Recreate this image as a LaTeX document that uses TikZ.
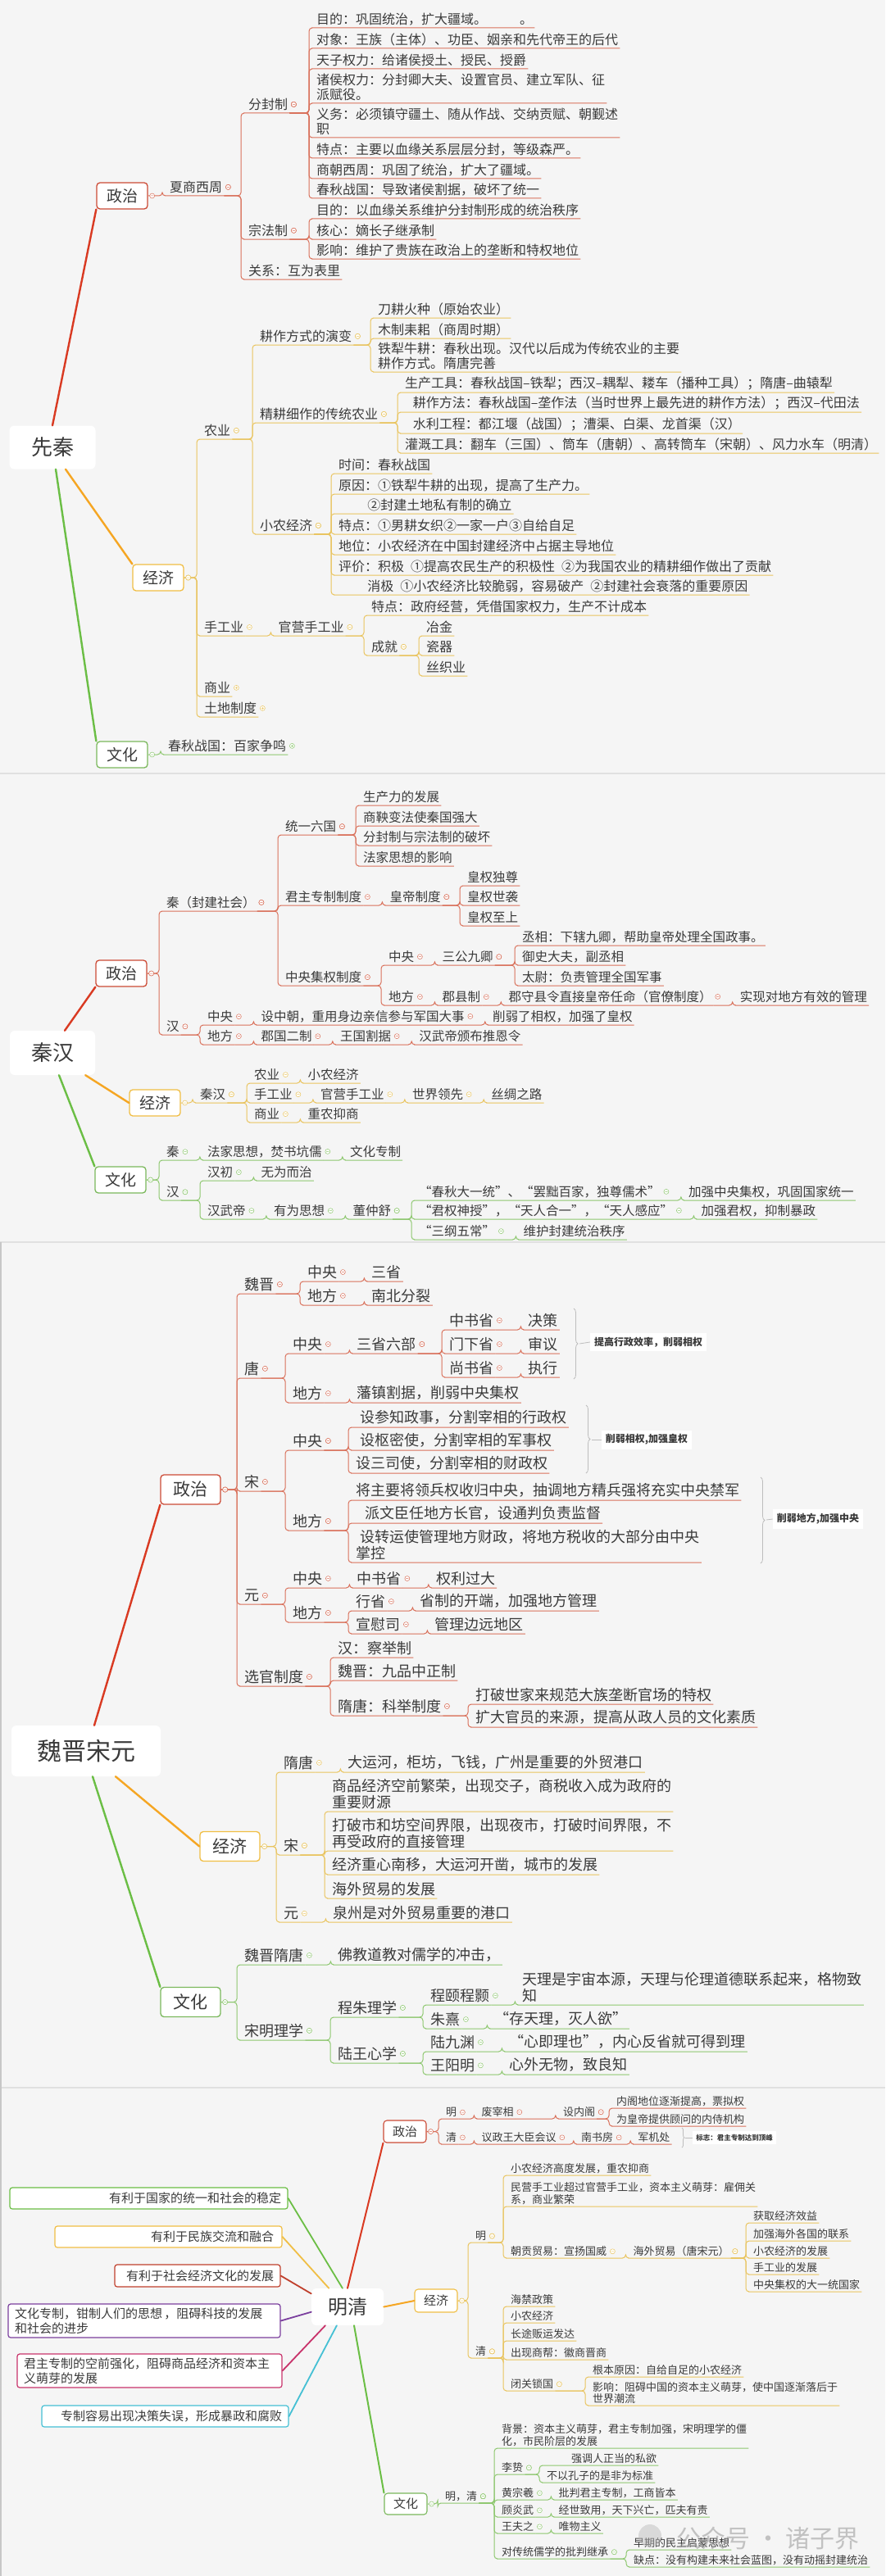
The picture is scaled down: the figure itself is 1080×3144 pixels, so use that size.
\documentclass[tikz,border=0pt]{standalone}
\usepackage{fontspec}
\setmainfont{Noto Sans CJK SC}
\usetikzlibrary{positioning,calc,decorations.pathreplacing}
\definecolor{PageBg}{HTML}{F5F5F5}
\definecolor{InkGray}{HTML}{3A3A3A}
\definecolor{PolLine}{HTML}{D9705A}
\definecolor{PolBox}{HTML}{CC4A35}
\definecolor{PolRoot}{HTML}{D93A22}
\definecolor{EcoLine}{HTML}{E9C45E}
\definecolor{EcoBox}{HTML}{F0BE45}
\definecolor{EcoRoot}{HTML}{F5A623}
\definecolor{CulLine}{HTML}{8DC76E}
\definecolor{CulBox}{HTML}{7AB85C}
\definecolor{CulRoot}{HTML}{6BBE45}
\definecolor{BraceGray}{HTML}{BDBDBD}
\definecolor{EvRed}{HTML}{C0402D}
\definecolor{EvPurple}{HTML}{7B3F9E}
\definecolor{EvCrimson}{HTML}{C8336B}
\definecolor{EvCyan}{HTML}{45C0D4}

\newcommand{\lnk}[3]{%
  \draw[#1, line width=1pt, rounded corners=4pt] (#2.south east)
    -- ($(#2.south east -| #3.south west)+(-7,0)$) |- (#3.south west) -- (#3.south east);
  \draw[#1, line width=.5pt, fill=white] ($(#2.east)+(5,0)$) circle (3pt) +(-1.6,0) -- +(1.6,0);}
\newcommand{\blnk}[3]{%
  \draw[#1, line width=1pt, rounded corners=4pt] (#2.east)
    -- ($(#2.east -| #3.south west)+(-7,0)$) |- (#3.south west) -- (#3.south east);
  \draw[#1, line width=.5pt, fill=white] ($(#2.east)+(5,0)$) circle (3pt) +(-1.6,0) -- +(1.6,0);}
\newcommand{\mkp}[2]{%
  \draw[#1, line width=.5pt, fill=white] ($(#2.east)+(5,0)$) circle (3pt)
    +(-1.6,0) -- +(1.6,0) +(0,-1.6) -- +(0,1.6);}

\begin{document}
\begin{tikzpicture}[x=1pt, y=-1pt,
  ta/.style={anchor=south west, inner xsep=2pt, inner ysep=3pt, align=left, text=InkGray, font=\fontsize{16}{17.6}\selectfont},
  tb/.style={ta, font=\fontsize{15.5}{17}\selectfont},
  tc/.style={ta, font=\fontsize{18}{19.8}\selectfont},
  td/.style={ta, inner ysep=2pt, font=\fontsize{13}{14.5}\selectfont},
  rootbox/.style={fill=white, rounded corners=6pt, text=InkGray, inner sep=0pt},
  lvbox/.style={draw=#1, fill=white, line width=1.3pt, rounded corners=4pt, text=InkGray, inner sep=0pt,
    minimum width=62pt, minimum height=32pt, font=\fontsize{19}{19}\selectfont},
  rl/.style={draw=#1, line width=2.4pt, line cap=round},
  evl/.style={draw=#1, line width=1.8pt, line cap=round},
  brc/.style={draw=BraceGray, line width=.8pt, decorate, decoration={brace, amplitude=5pt}},
  tag/.style={fill=white, inner xsep=5pt, inner ysep=5pt, text=InkGray, font=\fontsize{12}{12}\selectfont\bfseries},
  evbox/.style={draw=#1, fill=white, line width=1.2pt, rounded corners=3pt, text=InkGray,
    inner xsep=8pt, inner ysep=2pt, font=\fontsize{15}{18}\selectfont}]
  \useasboundingbox (0,0) rectangle (1080,3144);
  \fill[PageBg] (0,0) rectangle (1080,3144);
  \draw[black!12, line width=1.5pt] (0,944) -- (1080,944) (0,1516) -- (1080,1516) (0,2548) -- (1080,2548);
  \draw[black!22, line width=1.5pt] (1,1516) -- (1,3144);

  \node[rootbox, minimum width=105pt, minimum height=53pt, font=\fontsize{26}{26}\selectfont] (aR) at (64,546) {先秦};
  \node[lvbox=PolBox] (aP) at (149,239) {政治};
  \node[lvbox=EcoBox] (aE) at (193,705) {经济};
  \node[lvbox=CulBox] (aC) at (149,921) {文化};
  \draw[rl=PolRoot] (aR.north) -- (aP.south west);
  \draw[rl=EcoRoot] ([xshift=16pt]aR.south) -- (aE.north west);
  \draw[rl=CulRoot] ([xshift=4pt]aR.south) -- (aC.north west);

  \node[ta] (a1) at (205,239) {夏商西周};
  \node[ta] (a11) at (301,138) {分封制};
  \node[ta] (a12) at (301,292) {宗法制};
  \node[ta] (a13) at (301,341) {关系：互为表里};
  \node[ta] (a111) at (384,34) {目的：巩固统治，扩大疆域。\hspace{2.5em}。};
  \node[ta] (a112) at (384,59) {对象：王族（主体）、功臣、姻亲和先代帝王的后代};
  \node[ta] (a113) at (384,84) {天子权力：给诸侯授土、授民、授爵};
  \node[ta] (a114) at (384,126) {诸侯权力：分封卿大夫、设置官员、建立军队、征\\派赋役。};
  \node[ta] (a115) at (384,168) {义务：必须镇守疆土、随从作战、交纳贡赋、朝觐述\\职};
  \node[ta] (a116) at (384,193) {特点：主要以血缘关系层层分封，等级森严。};
  \node[ta] (a117) at (384,218) {商朝西周：巩固了统治，扩大了疆域。};
  \node[ta] (a118) at (384,242) {春秋战国：导致诸侯割据，破坏了统一};
  \node[ta] (a121) at (384,267) {目的：以血缘关系维护分封制形成的统治秩序};
  \node[ta] (a122) at (384,292) {核心：嫡长子继承制};
  \node[ta] (a123) at (384,316) {影响：维护了贵族在政治上的垄断和特权地位};
  \blnk{PolLine}{aP}{a1}
  \foreach \c in {a11,a12,a13} {\lnk{PolLine}{a1}{\c}}
  \foreach \c in {a111,a112,a113,a114,a115,a116,a117,a118} {\lnk{PolLine}{a11}{\c}}
  \foreach \c in {a121,a122,a123} {\lnk{PolLine}{a12}{\c}}

  \node[ta] (a2) at (247,536) {农业};
  \node[ta] (a3) at (247,776) {手工业};
  \node[ta] (a4) at (247,850) {商业};
  \node[ta] (a5) at (247,875) {土地制度};
  \node[ta] (a21) at (315,421) {耕作方式的演变};
  \node[ta] (a22) at (315,516) {精耕细作的传统农业};
  \node[ta] (a23) at (315,652) {小农经济};
  \node[ta] (a211) at (459,388) {刀耕火种（原始农业）};
  \node[ta] (a212) at (459,413) {木制耒耜（商周时期）};
  \node[ta] (a213) at (459,454) {铁犁牛耕：春秋出现。汉代以后成为传统农业的主要\\耕作方式。隋唐完善};
  \node[ta] (a221) at (492,479) {生产工具：春秋战国–铁犁；西汉–耦犁、耧车（播种工具）；隋唐–曲辕犁};
  \node[ta] (a222) at (492,503) {\hspace*{.6em}耕作方法：春秋战国–垄作法（当时世界上最先进的耕作方法）；西汉–代田法};
  \node[ta] (a223) at (492,529) {\hspace*{.6em}水利工程：都江堰（战国）；漕渠、白渠、龙首渠（汉）};
  \node[ta] (a224) at (492,553) {灌溉工具：翻车（三国）、筒车（唐朝）、高转筒车（宋朝）、风力水车（明清）};
  \node[ta] (a231) at (411,578) {时间：春秋战国};
  \node[ta] (a232) at (411,603) {原因：①铁犁牛耕的出现，提高了生产力。};
  \node[ta] (a233) at (411,627) {\hspace*{2.2em}②封建土地私有制的确立};
  \node[ta] (a234) at (411,652) {特点：①男耕女织②一家一户③自给自足};
  \node[ta] (a235) at (411,677) {地位：小农经济在中国封建经济中占据主导地位};
  \node[ta] (a236) at (411,702) {评价：积极\hspace{.5em}①提高农民生产的积极性\hspace{.5em}②为我国农业的精耕细作做出了贡献};
  \node[ta] (a237) at (411,726) {\hspace*{2.2em}消极\hspace{.5em}①小农经济比较脆弱，容易破产\hspace{.5em}②封建社会衰落的重要原因};
  \node[ta, right=38pt of a3.south east, anchor=south west] (a31) {官营手工业};
  \node[ta] (a311) at (451,751) {特点：政府经营，凭借国家权力，生产不计成本};
  \node[ta] (a312) at (451,800) {成就};
  \node[ta] (a3121) at (518,776) {冶金};
  \node[ta] (a3122) at (518,800) {瓷器};
  \node[ta] (a3123) at (518,825) {丝织业};
  \foreach \c in {a2,a3,a4,a5} {\blnk{EcoLine}{aE}{\c}}
  \foreach \c in {a21,a22,a23} {\lnk{EcoLine}{a2}{\c}}
  \foreach \c in {a211,a212,a213} {\lnk{EcoLine}{a21}{\c}}
  \foreach \c in {a221,a222,a223,a224} {\lnk{EcoLine}{a22}{\c}}
  \foreach \c in {a231,a232,a233,a234,a235,a236,a237} {\lnk{EcoLine}{a23}{\c}}
  \lnk{EcoLine}{a3}{a31}
  \foreach \c in {a311,a312} {\lnk{EcoLine}{a31}{\c}}
  \foreach \c in {a3121,a3122,a3123} {\lnk{EcoLine}{a312}{\c}}
  \mkp{EcoLine}{a4}
  \mkp{EcoLine}{a5}

  \node[ta] (a6) at (203,921) {春秋战国：百家争鸣};
  \blnk{CulLine}{aC}{a6}
  \mkp{CulLine}{a6}

  \node[rootbox, minimum width=104pt, minimum height=54pt, font=\fontsize{26}{26}\selectfont] (bR) at (64,1285) {秦汉};
  \node[lvbox=PolBox] (bP) at (148,1188) {政治};
  \node[lvbox=EcoBox] (bE) at (189,1346) {经济};
  \node[lvbox=CulBox] (bC) at (147,1440) {文化};
  \draw[rl=PolRoot] ([xshift=15pt]bR.north) -- (bP.south west);
  \draw[rl=EcoRoot] ([xshift=-12pt]bR.south east) -- (bE.west);
  \draw[rl=CulRoot] ([xshift=8pt]bR.south) -- (bC.north west);

  \node[tb] (b1) at (201,1112) {秦（封建社会）};
  \node[tb] (b2) at (201,1263) {汉};
  \node[tb] (b11) at (346,1019) {统一六国};
  \node[tb] (b12) at (346,1105) {君主专制制度};
  \node[tb] (b13) at (346,1203) {中央集权制度};
  \node[tb] (b111) at (441,983) {生产力的发展};
  \node[tb] (b112) at (441,1008) {商鞅变法使秦国强大};
  \node[tb] (b113) at (441,1032) {分封制与宗法制的破坏};
  \node[tb] (b114) at (441,1057) {法家思想的影响};
  \node[tb, right=30pt of b12.south east, anchor=south west] (b121) {皇帝制度};
  \node[tb] (b1211) at (568,1081) {皇权独尊};
  \node[tb] (b1212) at (568,1105) {皇权世袭};
  \node[tb] (b1213) at (568,1130) {皇权至上};
  \node[tb] (b131) at (472,1178) {中央};
  \node[tb, right=30pt of b131.south east, anchor=south west] (b1311) {三公九卿};
  \node[tb] (b13111) at (635,1154) {丞相：下辖九卿，帮助皇帝处理全国政事。};
  \node[tb] (b13112) at (635,1178) {御史大夫，副丞相};
  \node[tb] (b13113) at (635,1203) {太尉：负责管理全国军事};
  \node[tb] (b132) at (472,1227) {地方};
  \node[tb, right=30pt of b132.south east, anchor=south west] (b1321) {郡县制};
  \node[tb, right=30pt of b1321.south east, anchor=south west] (b13211) {郡守县令直接皇帝任命（官僚制度）};
  \node[tb, right=30pt of b13211.south east, anchor=south west] (b132111) {实现对地方有效的管理};
  \node[tb] (b21) at (251,1251) {中央};
  \node[tb, right=30pt of b21.south east, anchor=south west] (b211) {设中朝，重用身边亲信参与军国大事};
  \node[tb, right=30pt of b211.south east, anchor=south west] (b2111) {削弱了相权，加强了皇权};
  \node[tb] (b22) at (251,1275) {地方};
  \node[tb, right=30pt of b22.south east, anchor=south west] (b221) {郡国二制};
  \node[tb, right=30pt of b221.south east, anchor=south west] (b2211) {王国割据};
  \node[tb, right=30pt of b2211.south east, anchor=south west] (b22111) {汉武帝颁布推恩令};
  \foreach \c in {b1,b2} {\blnk{PolLine}{bP}{\c}}
  \foreach \c in {b11,b12,b13} {\lnk{PolLine}{b1}{\c}}
  \foreach \c in {b111,b112,b113,b114} {\lnk{PolLine}{b11}{\c}}
  \lnk{PolLine}{b12}{b121}
  \foreach \c in {b1211,b1212,b1213} {\lnk{PolLine}{b121}{\c}}
  \foreach \c in {b131,b132} {\lnk{PolLine}{b13}{\c}}
  \lnk{PolLine}{b131}{b1311}
  \foreach \c in {b13111,b13112,b13113} {\lnk{PolLine}{b1311}{\c}}
  \lnk{PolLine}{b132}{b1321}
  \lnk{PolLine}{b1321}{b13211}
  \lnk{PolLine}{b13211}{b132111}
  \foreach \c in {b21,b22} {\lnk{PolLine}{b2}{\c}}
  \lnk{PolLine}{b21}{b211}
  \lnk{PolLine}{b211}{b2111}
  \lnk{PolLine}{b22}{b221}
  \lnk{PolLine}{b221}{b2211}
  \lnk{PolLine}{b2211}{b22111}

  \node[tb] (b3) at (242,1346) {秦汉};
  \node[tb] (b31) at (308,1322) {农业};
  \node[tb, right=30pt of b31.south east, anchor=south west] (b311) {小农经济};
  \node[tb] (b32) at (308,1346) {手工业};
  \node[tb, right=30pt of b32.south east, anchor=south west] (b321) {官营手工业};
  \node[tb, right=30pt of b321.south east, anchor=south west] (b3211) {世界领先};
  \node[tb, right=30pt of b3211.south east, anchor=south west] (b32111) {丝绸之路};
  \node[tb] (b33) at (308,1370) {商业};
  \node[tb, right=30pt of b33.south east, anchor=south west] (b331) {重农抑商};
  \blnk{EcoLine}{bE}{b3}
  \foreach \c in {b31,b32,b33} {\lnk{EcoLine}{b3}{\c}}
  \lnk{EcoLine}{b31}{b311}
  \lnk{EcoLine}{b32}{b321}
  \lnk{EcoLine}{b321}{b3211}
  \lnk{EcoLine}{b3211}{b32111}
  \lnk{EcoLine}{b33}{b331}

  \node[tb] (b4) at (201,1416) {秦};
  \node[tb, right=30pt of b4.south east, anchor=south west] (b41) {法家思想，焚书坑儒};
  \node[tb, right=30pt of b41.south east, anchor=south west] (b411) {文化专制};
  \node[tb] (b5) at (201,1465) {汉};
  \node[tb] (b51) at (251,1441) {汉初};
  \node[tb, right=30pt of b51.south east, anchor=south west] (b511) {无为而治};
  \node[tb] (b52) at (251,1488) {汉武帝};
  \node[tb, right=30pt of b52.south east, anchor=south west] (b521) {有为思想};
  \node[tb, right=30pt of b521.south east, anchor=south west] (b5211) {董仲舒};
  \node[tb] (b52111) at (509,1465) {“春秋大一统”、“罢黜百家，独尊儒术”};
  \node[tb, right=30pt of b52111.south east, anchor=south west] (b521111) {加强中央集权，巩固国家统一};
  \node[tb] (b52112) at (509,1488) {“君权神授”，“天人合一”，“天人感应”};
  \node[tb, right=30pt of b52112.south east, anchor=south west] (b521121) {加强君权，抑制暴政};
  \node[tb] (b52113) at (509,1513) {“三纲五常”};
  \node[tb, right=30pt of b52113.south east, anchor=south west] (b521131) {维护封建统治秩序};
  \foreach \c in {b4,b5} {\blnk{CulLine}{bC}{\c}}
  \lnk{CulLine}{b4}{b41}
  \lnk{CulLine}{b41}{b411}
  \foreach \c in {b51,b52} {\lnk{CulLine}{b5}{\c}}
  \lnk{CulLine}{b51}{b511}
  \lnk{CulLine}{b52}{b521}
  \lnk{CulLine}{b521}{b5211}
  \foreach \c in {b52111,b52112,b52113} {\lnk{CulLine}{b5211}{\c}}
  \lnk{CulLine}{b52111}{b521111}
  \lnk{CulLine}{b52112}{b521121}
  \lnk{CulLine}{b52113}{b521131}

  \node[rootbox, minimum width=182pt, minimum height=62pt, font=\fontsize{30}{30}\selectfont] (cR) at (105,2137) {魏晋宋元};
  \node[lvbox=PolBox, minimum width=73pt, minimum height=36pt, font=\fontsize{21}{21}\selectfont] (cP) at (232.5,1818) {政治};
  \node[lvbox=EcoBox, minimum width=73pt, minimum height=36pt, font=\fontsize{21}{21}\selectfont] (cE) at (280.5,2253.5) {经济};
  \node[lvbox=CulBox, minimum width=73pt, minimum height=36pt, font=\fontsize{21}{21}\selectfont] (cC) at (232.5,2443.5) {文化};
  \draw[rl=PolRoot] ([xshift=10pt]cR.north) -- (cP.south west);
  \draw[rl=EcoRoot] ([xshift=36pt]cR.south) -- (cE.west);
  \draw[rl=CulRoot] ([xshift=8pt]cR.south) -- (cC.north west);

  \node[tc] (c1) at (296,1579) {魏晋};
  \node[tc] (c11) at (373,1564) {中央};
  \node[tc, right=38pt of c11.south east, anchor=south west] (c111) {三省};
  \node[tc] (c12) at (373,1593) {地方};
  \node[tc, right=38pt of c12.south east, anchor=south west] (c121) {南北分裂};
  \node[tc] (c2) at (296,1682) {唐};
  \node[tc] (c21) at (355,1652) {中央};
  \node[tc, right=38pt of c21.south east, anchor=south west] (c211) {三省六部};
  \node[tc] (c2111) at (546,1623) {中书省};
  \node[tc, right=38pt of c2111.south east, anchor=south west] (c21111) {决策};
  \node[tc] (c2112) at (546,1652) {门下省};
  \node[tc, right=38pt of c2112.south east, anchor=south west] (c21121) {审议};
  \node[tc] (c2113) at (546,1681) {尚书省};
  \node[tc, right=38pt of c2113.south east, anchor=south west] (c21131) {执行};
  \node[tc] (c22) at (355,1712) {地方};
  \node[tc, right=38pt of c22.south east, anchor=south west] (c221) {藩镇割据，削弱中央集权};
  \node[tc] (c3) at (296,1820) {宋};
  \node[tc] (c31) at (355,1770) {中央};
  \node[tc] (c311) at (432,1742) {\hspace*{.3em}设参知政事，分割宰相的行政权};
  \node[tc] (c312) at (432,1770) {\hspace*{.3em}设枢密使，分割宰相的军事权};
  \node[tc] (c313) at (432,1798) {设三司使，分割宰相的财政权};
  \node[tc] (c32) at (355,1868) {地方};
  \node[tc] (c321) at (432,1831) {将主要将领兵权收归中央，抽调地方精兵强将充实中央禁军};
  \node[tc] (c322) at (432,1859) {\hspace*{.6em}派文臣任地方长官，设通判负责监督};
  \node[tc] (c323) at (432,1907) {\hspace*{.3em}设转运使管理地方财政，将地方税收的大部分由中央\\掌控};
  \node[tc] (c4) at (296,1958) {元};
  \node[tc] (c41) at (355,1938) {中央};
  \node[tc, right=38pt of c41.south east, anchor=south west] (c411) {中书省};
  \node[tc, right=38pt of c411.south east, anchor=south west] (c4111) {权利过大};
  \node[tc] (c42) at (355,1980) {地方};
  \node[tc] (c421) at (432,1966) {行省};
  \node[tc, right=38pt of c421.south east, anchor=south west] (c4211) {省制的开端，加强地方管理};
  \node[tc] (c422) at (432,1994) {宣慰司};
  \node[tc, right=38pt of c422.south east, anchor=south west] (c4221) {管理边远地区};
  \node[tc] (c5) at (296,2058) {选官制度};
  \node[tc] (c51) at (410,2023) {汉：察举制};
  \node[tc] (c52) at (410,2051) {魏晋：九品中正制};
  \node[tc] (c53) at (410,2094) {隋唐：科举制度};
  \node[tc] (c531) at (578,2080) {打破世家来规范大族垄断官场的特权};
  \node[tc] (c532) at (578,2108) {扩大官员的来源，提高从政人员的文化素质};
  \foreach \c in {c1,c2,c3,c4,c5} {\blnk{PolLine}{cP}{\c}}
  \foreach \c in {c11,c12} {\lnk{PolLine}{c1}{\c}}
  \lnk{PolLine}{c11}{c111}
  \lnk{PolLine}{c12}{c121}
  \foreach \c in {c21,c22} {\lnk{PolLine}{c2}{\c}}
  \lnk{PolLine}{c21}{c211}
  \foreach \c in {c2111,c2112,c2113} {\lnk{PolLine}{c211}{\c}}
  \lnk{PolLine}{c2111}{c21111}
  \lnk{PolLine}{c2112}{c21121}
  \lnk{PolLine}{c2113}{c21131}
  \lnk{PolLine}{c22}{c221}
  \foreach \c in {c31,c32} {\lnk{PolLine}{c3}{\c}}
  \foreach \c in {c311,c312,c313} {\lnk{PolLine}{c31}{\c}}
  \foreach \c in {c321,c322,c323} {\lnk{PolLine}{c32}{\c}}
  \foreach \c in {c41,c42} {\lnk{PolLine}{c4}{\c}}
  \lnk{PolLine}{c41}{c411}
  \lnk{PolLine}{c411}{c4111}
  \foreach \c in {c421,c422} {\lnk{PolLine}{c42}{\c}}
  \lnk{PolLine}{c421}{c4211}
  \lnk{PolLine}{c422}{c4221}
  \foreach \c in {c51,c52,c53} {\lnk{PolLine}{c5}{\c}}
  \foreach \c in {c531,c532} {\lnk{PolLine}{c53}{\c}}

  \draw[brc] (700,1597) -- (700,1683);
  \coordinate (cB1) at (707,1640);
  \node[tag] (cT1) at (791,1638) {提高行政效率，削弱相权};
  \draw[BraceGray, line width=.8pt] (cB1) -- (cT1.west);
  \draw[brc] (715,1715) -- (715,1798);
  \coordinate (cB2) at (722,1757);
  \node[tag] (cT2) at (789,1757) {削弱相权,加强皇权};
  \draw[BraceGray, line width=.8pt] (cB2) -- (cT2.west);
  \draw[brc] (928,1803) -- (928,1908);
  \coordinate (cB3) at (935,1855);
  \node[tag] (cT3) at (998,1854) {削弱地方,加强中央};
  \draw[BraceGray, line width=.8pt] (cB3) -- (cT3.west);

  \node[tc] (c6) at (344,2163) {隋唐};
  \node[tc, right=38pt of c6.south east, anchor=south west] (c61) {大运河，柜坊，飞钱，广州是重要的外贸港口};
  \node[tc] (c7) at (344,2264) {宋};
  \node[tc] (c71) at (403,2211) {商品经济空前繁荣，出现交子，商税收入成为政府的\\重要财源};
  \node[tc] (c72) at (403,2259) {打破市和坊空间界限，出现夜市，打破时间界限，不\\再受政府的直接管理};
  \node[tc] (c73) at (403,2288) {经济重心南移，大运河开凿，城市的发展};
  \node[tc] (c74) at (403,2317) {海外贸易的发展};
  \node[tc] (c8) at (344,2346) {元};
  \node[tc, right=38pt of c8.south east, anchor=south west] (c81) {泉州是对外贸易重要的港口};
  \foreach \c in {c6,c7,c8} {\blnk{EcoLine}{cE}{\c}}
  \lnk{EcoLine}{c6}{c61}
  \foreach \c in {c71,c72,c73,c74} {\lnk{EcoLine}{c7}{\c}}
  \lnk{EcoLine}{c8}{c81}

  \node[tc] (c9) at (296,2398) {魏晋隋唐};
  \node[tc, right=38pt of c9.south east, anchor=south west] (c91) {佛教道教对儒学的冲击，};
  \node[tc] (c10) at (296,2490) {宋明理学};
  \node[tc] (c101) at (410,2462) {程朱理学};
  \node[tc] (c1011) at (523,2447) {程颐程颢};
  \node[tc, right=36pt of c1011.south east, anchor=south west] (c10111) {天理是宇宙本源，天理与伦理道德联系起来，格物致\\知};
  \node[tc] (c1012) at (523,2476) {朱熹};
  \node[tc, right=38pt of c1012.south east, anchor=south west] (c10121) {“存天理，灭人欲”};
  \node[tc] (c102) at (410,2518) {陆王心学};
  \node[tc] (c1021) at (523,2504) {陆九渊};
  \node[tc, right=38pt of c1021.south east, anchor=south west] (c10211) {“心即理也”，内心反省就可得到理};
  \node[tc] (c1022) at (523,2532) {王阳明};
  \node[tc, right=38pt of c1022.south east, anchor=south west] (c10221) {心外无物，致良知};
  \foreach \c in {c9,c10} {\blnk{CulLine}{cC}{\c}}
  \lnk{CulLine}{c9}{c91}
  \foreach \c in {c101,c102} {\lnk{CulLine}{c10}{\c}}
  \foreach \c in {c1011,c1012} {\lnk{CulLine}{c101}{\c}}
  \lnk{CulLine}{c1011}{c10111}
  \lnk{CulLine}{c1012}{c10121}
  \foreach \c in {c1021,c1022} {\lnk{CulLine}{c102}{\c}}
  \lnk{CulLine}{c1021}{c10211}
  \lnk{CulLine}{c1022}{c10221}

  \node[rootbox, minimum width=88pt, minimum height=45pt, font=\fontsize{24}{24}\selectfont] (dR) at (424,2815.5) {明清};
  \node[lvbox=PolBox, minimum width=52pt, minimum height=27pt, line width=1.1pt, font=\fontsize{15}{15}\selectfont] (dP) at (494,2601.5) {政治};
  \node[lvbox=EcoBox, minimum width=52pt, minimum height=28pt, line width=1.1pt, font=\fontsize{15}{15}\selectfont] (dE) at (532,2808) {经济};
  \node[lvbox=CulBox, minimum width=52pt, minimum height=26pt, line width=1.1pt, font=\fontsize{15}{15}\selectfont] (dC) at (495,3056) {文化};
  \draw[rl=PolRoot, line width=2pt] (dR.north) -- (dP.south west);
  \draw[rl=EcoRoot, line width=2pt] (dR.east) -- (dE.west);
  \draw[rl=CulRoot, line width=2pt] ([xshift=8pt]dR.south) -- (dC.north west);

  \node[td] (d1) at (542,2586) {明};
  \node[td, right=26pt of d1.south east, anchor=south west] (d11) {废宰相};
  \node[td, right=56pt of d11.south east, anchor=south west] (d111) {设内阁};
  \node[td] (d1111) at (750,2573) {内阁地位逐渐提高，票拟权};
  \node[td] (d1112) at (750,2595) {为皇帝提供顾问的内侍机构};
  \node[td] (d2) at (542,2617) {清};
  \node[td, right=26pt of d2.south east, anchor=south west] (d21) {议政王大臣会议};
  \node[td, right=26pt of d21.south east, anchor=south west] (d211) {南书房};
  \node[td, right=26pt of d211.south east, anchor=south west] (d2111) {军机处};
  \foreach \c in {d1,d2} {\blnk{PolLine}{dP}{\c}}
  \lnk{PolLine}{d1}{d11}
  \lnk{PolLine}{d11}{d111}
  \foreach \c in {d1111,d1112} {\lnk{PolLine}{d111}{\c}}
  \lnk{PolLine}{d2}{d21}
  \lnk{PolLine}{d21}{d211}
  \lnk{PolLine}{d211}{d2111}
  \draw[brc, decoration={brace, amplitude=3pt}] (832,2597) -- (832,2621);
  \coordinate (dB1) at (836,2609);
  \node[tag, inner sep=4pt, font=\fontsize{8.5}{8.5}\selectfont\bfseries] (dT1) at (896,2609) {标志：君主专制达到顶峰};
  \draw[BraceGray, line width=.8pt] (dB1) -- (dT1.west);

  \node[td] (d3) at (578,2737) {明};
  \node[td] (d31) at (621,2655) {小农经济高度发展，重农抑商};
  \node[td] (d32) at (621,2693) {民营手工业超过官营手工业，资本主义萌芽：雇佣关\\系，商业繁荣};
  \node[td] (d33) at (621,2756) {朝贡贸易：宣扬国威};
  \node[td, right=28pt of d33.south east, anchor=south west] (d331) {海外贸易（唐宋元）};
  \node[td] (d3311) at (917,2713) {获取经济效益};
  \node[td] (d3312) at (917,2735) {加强海外各国的联系};
  \node[td] (d3313) at (917,2756) {小农经济的发展};
  \node[td] (d3314) at (917,2776) {手工业的发展};
  \node[td] (d3315) at (917,2797) {中央集权的大一统国家};
  \node[td] (d4) at (578,2878) {清};
  \node[td] (d41) at (621,2815) {海禁政策};
  \node[td] (d42) at (621,2835) {小农经济};
  \node[td] (d43) at (621,2857) {长途贩运发达};
  \node[td] (d44) at (621,2880) {出现商帮：徽商晋商};
  \node[td] (d45) at (621,2918) {闭关锁国};
  \node[td] (d451) at (721,2901) {根本原因：自给自足的小农经济};
  \node[td] (d452) at (721,2936) {影响：阻碍中国的资本主义萌芽，使中国逐渐落后于\\世界潮流};
  \foreach \c in {d3,d4} {\blnk{EcoLine}{dE}{\c}}
  \foreach \c in {d31,d32,d33} {\lnk{EcoLine}{d3}{\c}}
  \lnk{EcoLine}{d33}{d331}
  \foreach \c in {d3311,d3312,d3313,d3314,d3315} {\lnk{EcoLine}{d331}{\c}}
  \foreach \c in {d41,d42,d43,d44,d45} {\lnk{EcoLine}{d4}{\c}}
  \foreach \c in {d451,d452} {\lnk{EcoLine}{d45}{\c}}

  \node[td] (d5) at (541,3055) {明，清};
  \node[td] (d51) at (610,2988) {背景：资本主义萌芽，君主专制加强，宋明理学的僵\\化，市民阶层的发展};
  \node[td] (d52) at (610,3020) {李贽};
  \node[td] (d521) at (665,3009) {\hspace*{2.3em}强调人正当的私欲};
  \node[td] (d522) at (665,3030) {不以孔子的是非为标准};
  \node[td] (d53) at (610,3051) {黄宗羲};
  \node[td, right=26pt of d53.south east, anchor=south west] (d531) {批判君主专制，工商皆本};
  \node[td] (d54) at (610,3072) {顾炎武};
  \node[td, right=26pt of d54.south east, anchor=south west] (d541) {经世致用，天下兴亡，匹夫有责};
  \node[td] (d55) at (610,3092) {王夫之};
  \node[td, right=26pt of d55.south east, anchor=south west] (d551) {唯物主义};
  \node[td] (d56) at (610,3123) {对传统儒学的批判继承};
  \node[td] (d561) at (771,3112) {早期的民主启蒙思想};
  \node[td] (d562) at (771,3133) {缺点：没有构建未来社会蓝图，没有动摇封建统治};
  \blnk{CulLine}{dC}{d5}
  \foreach \c in {d51,d52,d53,d54,d55,d56} {\lnk{CulLine}{d5}{\c}}
  \foreach \c in {d521,d522} {\lnk{CulLine}{d52}{\c}}
  \lnk{CulLine}{d53}{d531}
  \lnk{CulLine}{d54}{d541}
  \lnk{CulLine}{d55}{d551}
  \foreach \c in {d561,d562} {\lnk{CulLine}{d56}{\c}}

  \node[evbox=CulRoot, minimum width=339pt, minimum height=26pt, text width=323pt, align=right] (dA1) at (181.5,2683) {有利于国家的统一和社会的稳定};
  \node[evbox=EcoBox, minimum width=277pt, minimum height=26pt, text width=257pt, inner xsep=10pt, align=right] (dA2) at (205.5,2730) {有利于民族交流和融合};
  \node[evbox=EvRed, minimum width=202pt, minimum height=27pt, text width=186pt, align=right] (dA3) at (241,2777.5) {有利于社会经济文化的发展};
  \node[evbox=EvPurple, minimum width=332pt, minimum height=41pt, text width=316pt, align=left] (dA4) at (176,2832.5) {文化专制，钳制人们的思想\,，阻碍科技的发展\\和社会的进步};
  \node[evbox=EvCrimson, minimum width=323pt, minimum height=41pt, text width=307pt, align=left] (dA5) at (182.5,2893.5) {君主专制的空前强化，阻碍商品经济和资本主\\义萌芽的发展};
  \node[evbox=EvCyan, minimum width=301pt, minimum height=26pt, text width=285pt, align=right] (dA6) at (201.5,2949) {专制容易出现决策失误，形成暴政和腐败};
  \draw[evl=CulRoot] (dA1.east) -- (dR.105);
  \draw[evl=EcoBox] (dA2.east) -- (dR.135);
  \draw[evl=EvRed] (dA3.east) -- (dR.160);
  \draw[evl=EvPurple] (dA4.east) -- (dR.188);
  \draw[evl=EvCrimson] (dA5.east) -- (dR.220);
  \draw[evl=EvCyan] (dA6.east) -- (dR.240);

  \fill[gray!55, opacity=.45] (793,3095) circle (14pt);
  \node[text=gray!75, opacity=.6, font=\fontsize{30}{30}\selectfont] (wm) at (937,3098) {公众号 · 诸子界};
\end{tikzpicture}
\end{document}
